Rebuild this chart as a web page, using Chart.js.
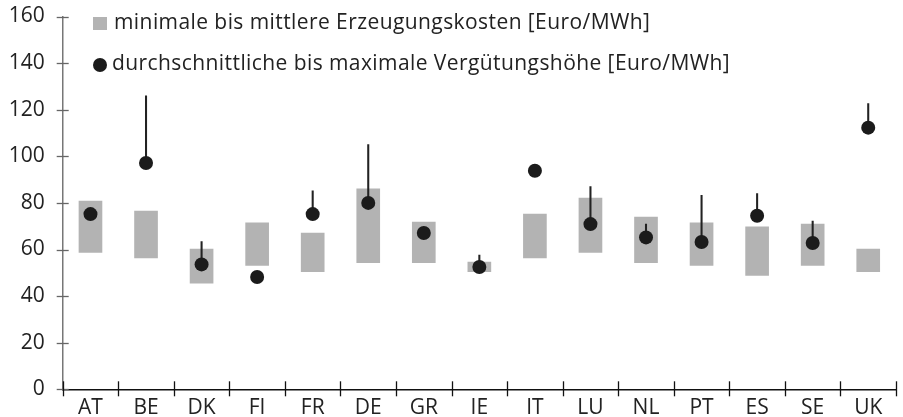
<!DOCTYPE html>
<html>
<head>
<meta charset="utf-8">
<script src="https://cdn.jsdelivr.net/npm/chart.js@4/dist/chart.umd.min.js"></script>
<style>
  html, body { margin: 0; padding: 0; background: #fff; }
  #wrap { position: relative; width: 903px; height: 417px; }
  canvas { display: block; }
  .leg { position: absolute; font-family: "Open Sans", sans-serif; font-size: 21px; letter-spacing: 0.42px; color: #222; white-space: nowrap; line-height: 29px; }
  .sq { position: absolute; width: 14px; height: 13px; background: #b3b3b3; }
  .dot { position: absolute; width: 14px; height: 14px; border-radius: 50%; background: #1b1b1b; }
</style>
</head>
<body>
<div id="wrap">
  <canvas id="c" width="903" height="417"></canvas>
  <div class="sq" style="left:93px; top:17px;"></div>
  <div class="leg" style="left:114px; top:7px;">minimale bis mittlere Erzeugungskosten [Euro/MWh]</div>
  <div class="dot" style="left:93px; top:58px;"></div>
  <div class="leg" style="left:112px; top:48px;">durchschnittliche bis maximale Vergütungshöhe [Euro/MWh]</div>
</div>
<script>
const countries = ["AT","BE","DK","FI","FR","DE","GR","IE","IT","LU","NL","PT","ES","SE","UK"];
const costMin   = [58.8, 56.4, 45.5, 53.2, 50.5, 54.3, 54.3, 50.5, 56.4, 58.8, 54.3, 53.2, 48.9, 53.2, 50.5];
const costMid   = [80.8, 76.5, 60.2, 71.4, 67.1, 86.0, 71.8, 54.6, 75.2, 82.1, 73.9, 71.4, 69.7, 70.9, 60.2];
const tariffAvg = [75.2, 97.1, 53.6, 48.2, 75.2, 80.0, 67.1, 52.5, 93.8, 70.9, 65.2, 63.2, 74.5, 62.8, 112.3];
const tariffMax = [null, 126.0, 63.4, null, 85.2, 105.0, null, 57.6, null, 87.0, 70.9, 83.3, 84.0, 72.2, 122.6];
const yTicks = [0, 20, 40, 60, 80, 100, 120, 140, 160];

const costRanges = countries.map((_, i) => [costMin[i], costMid[i]]);
const tariffRanges = countries.map((_, i) => tariffMax[i] === null ? null : [tariffAvg[i], tariffMax[i]]);

const tickMarks = {
  id: 'tickMarks',
  afterDraw(chart) {
    const ctx = chart.ctx;
    const xs = chart.scales.x, ys = chart.scales.y;
    const area = chart.chartArea;
    ctx.save();
    ctx.lineWidth = 1.3;
    ctx.strokeStyle = '#666';
    yTicks.forEach(v => {
      const y = Math.round(ys.getPixelForValue(v)) + 0.5;
      ctx.beginPath();
      ctx.moveTo(area.left - 6, y);
      ctx.lineTo(area.left + 6, y);
      ctx.stroke();
    });
    ctx.strokeStyle = '#111';
    const yb = area.bottom;
    for (let i = 0; i <= countries.length; i++) {
      const x = i === 0 ? area.left : (i === countries.length ? area.right : (xs.getPixelForValue(i - 1) + xs.getPixelForValue(i)) / 2);
      const xx = Math.round(x) + 0.5;
      ctx.beginPath();
      ctx.moveTo(xx, yb - 8);
      ctx.lineTo(xx, yb + 7);
      ctx.stroke();
    }
    ctx.restore();
  }
};

new Chart(document.getElementById('c'), {
  data: {
    labels: countries,
    datasets: [
      {
        type: 'line',
        label: 'avg',
        data: tariffAvg,
        showLine: false,
        pointRadius: 7,
        pointHoverRadius: 7,
        pointBackgroundColor: '#1b1b1b',
        pointBorderWidth: 0,
        order: 0
      },
      {
        type: 'bar',
        label: 'max',
        data: tariffRanges,
        backgroundColor: '#222',
        barThickness: 1.4,
        grouped: false,
        order: 1
      },
      {
        type: 'bar',
        label: 'cost',
        data: costRanges,
        backgroundColor: '#b3b3b3',
        barThickness: 23,
        grouped: false,
        borderSkipped: false,
        order: 2
      }
    ]
  },
  options: {
    responsive: false,
    animation: false,
    layout: { padding: { top: 16.5, right: 3.7, left: 0, bottom: 0 } },
    plugins: { legend: { display: false }, tooltip: { enabled: false } },
    scales: {
      x: {
        grid: { display: false, drawTicks: false },
        border: { display: true, color: '#111', width: 1.5 },
        ticks: { color: '#222', font: { family: 'Open Sans', size: 21 }, padding: 6 },
        afterFit(s) { s.height = 27.7; }
      },
      y: {
        min: 0, max: 160,
        afterBuildTicks(s) { s.ticks = yTicks.map(v => ({ value: v })); },
        grid: { display: false, drawTicks: true, tickLength: 18 },
        border: { display: true, color: '#777', width: 1.5 },
        ticks: { color: '#222', font: { family: 'Open Sans', size: 21 }, padding: 0 },
        afterFit(s) { s.width = 62.7; }
      }
    }
  },
  plugins: [tickMarks]
});
</script>
</body>
</html>
